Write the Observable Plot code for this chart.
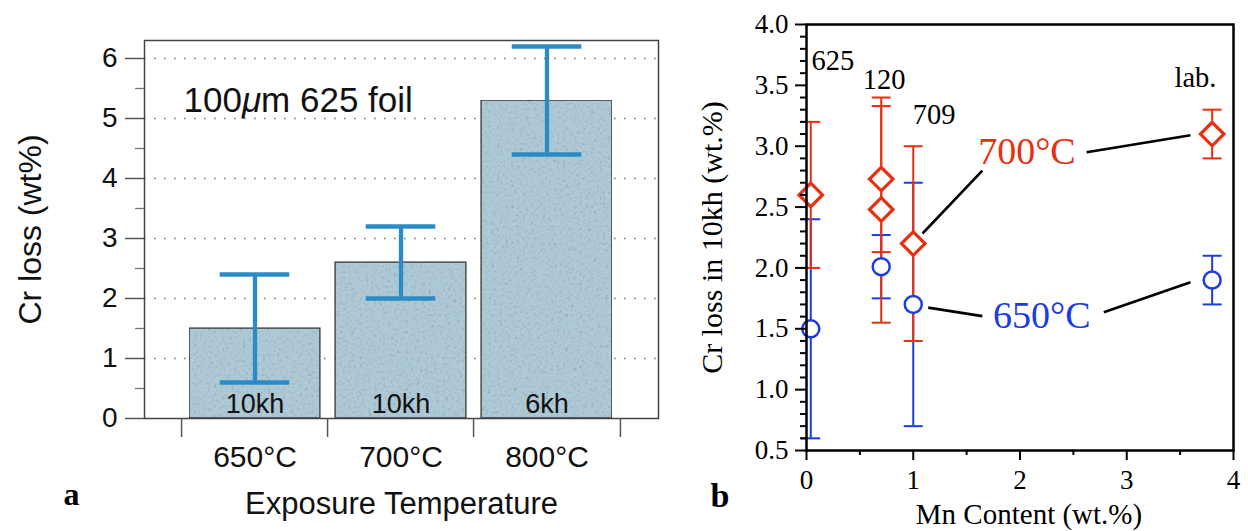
<!DOCTYPE html>
<html><head><meta charset="utf-8">
<script src="https://cdn.jsdelivr.net/npm/d3@7"></script>
<script src="https://cdn.jsdelivr.net/npm/@observablehq/plot@0.6"></script>
<style>
html,body{margin:0;padding:0;background:#fff;}
#wrap{position:relative;width:1248px;height:531px;overflow:hidden;}
#pa{position:absolute;left:0;top:0;}
#pb{position:absolute;left:680px;top:0;}
</style></head><body><div id="wrap"><div id="pa"></div><div id="pb"></div></div>
<script>
// ---------- Panel a data ----------
const tempLabels = ["650°C", "700°C", "800°C"];
const crLoss = [1.5, 2.6, 5.3];
const crLow = [0.6, 2.0, 4.4];
const crHigh = [2.4, 3.2, 6.2];
const hours = ["10kh", "10kh", "6kh"];
const aYTicks = [0, 1, 2, 3, 4, 5, 6];
const aYMinor = [0.5, 1.5, 2.5, 3.5, 4.5, 5.5];

// ---------- Panel b data ----------
const mn650 = [0.04, 0.70, 1.00, 3.80];
const loss650 = [1.5, 2.01, 1.7, 1.9];
const lo650 = [0.6, 1.75, 0.7, 1.7];
const hi650 = [2.4, 2.27, 2.7, 2.1];

const mn700 = [0.04, 0.70, 0.70, 1.00, 3.80];
const loss700 = [2.6, 2.73, 2.48, 2.2, 3.1];
const lo700 = [2.0, 2.13, 1.55, 1.4, 2.9];
const hi700 = [3.2, 3.33, 3.4, 3.0, 3.3];

const alloyNames = ["625", "120", "709", "lab."];
const alloyX = [0.047, 0.527, 0.996, 3.447];
const alloyY = [3.628, 3.472, 3.184, 3.485];

const seriesNames = ["700°C", "650°C"];
const seriesX = [1.608, 1.747];
const seriesY = [2.85, 1.504];

// leader lines (x1,y1) -> (x2,y2)
const leadX1 = [1.087, 2.624, 1.14, 2.785];
const leadY1 = [2.283, 2.951, 1.674, 1.636];
const leadX2 = [1.647, 3.597, 1.647, 3.597];
const leadY2 = [2.80, 3.09, 1.604, 1.882];

const bYTicks = [0.5, 1.0, 1.5, 2.0, 2.5, 3.0, 3.5, 4.0];
const bXTicks = [0, 1, 2, 3, 4];
const bXMinor = [0.5, 1.5, 2.5, 3.5];
const bYMinor = d3.range(5, 41).map(i => i / 10).filter(v => Math.round(v * 10) % 5 !== 0);

// ---------- Panel a ----------
const aRows = tempLabels.map((t, i) => ({temp: t, loss: crLoss[i], lo: crLow[i], hi: crHigh[i], hours: hours[i]}));
const A = {w: 680, h: 531, ml: 144, mr: 22, mt: 40, mb: 113};
const padIn = 0.1, padOut = 0.3;
const halfStep = (A.w - A.ml - A.mr) / (tempLabels.length - padIn + 2 * padOut) / 2;
const errBlue = "#2b8cc5";
const sans = "'Liberation Sans', Arial, Helvetica, sans-serif";
const serif = "'Liberation Serif', 'Times New Roman', serif";

const plotA = Plot.plot({
  width: A.w, height: A.h,
  marginLeft: A.ml, marginRight: A.mr, marginTop: A.mt, marginBottom: A.mb,
  style: {fontFamily: sans, fontSize: "27px", color: "#111", background: "transparent", overflow: "visible"},
  x: {type: "band", domain: tempLabels, paddingInner: padIn, paddingOuter: padOut},
  y: {domain: [0, 6.3]},
  marks: [
    Plot.gridY({ticks: aYTicks.slice(1), stroke: "#777", strokeOpacity: 1, strokeWidth: 1.6, strokeDasharray: "1.6 8.4"}),
    Plot.barY(aRows, {x: "temp", y: "loss", fill: "#afcad7", stroke: "#3b3b3b", strokeWidth: 1.5}),
    Plot.ruleX(aRows, {x: "temp", y1: "lo", y2: "hi", stroke: errBlue, strokeWidth: 4.3}),
    Plot.tickY(aRows, {x: "temp", y: "lo", stroke: errBlue, strokeWidth: 4.3, inset: 30.7}),
    Plot.tickY(aRows, {x: "temp", y: "hi", stroke: errBlue, strokeWidth: 4.3, inset: 30.7}),
    Plot.text(aRows, {x: "temp", y: 0, text: "hours", lineAnchor: "bottom", dy: -6, fontSize: 27, fill: "#111"}),
    Plot.frame({stroke: "#444", strokeWidth: 1.5}),
    Plot.axisY({ticks: aYTicks, tickSize: 19, tickPadding: 8, tickFormat: d3.format("d"), label: null, stroke: "#555", strokeWidth: 1.5, fill: "#111", fontSize: 28}),
    Plot.axisY({ticks: aYMinor, tickSize: 9, tickFormat: () => "", label: null, stroke: "#777", strokeWidth: 1.3}),
    Plot.axisX({tickSize: 0, tickPadding: 27, label: null, fontSize: 30, fill: "#111"}),
    Plot.ruleX(tempLabels, {x: d => d, dx: -halfStep, insetTop: A.h - A.mt - A.mb, insetBottom: -19, stroke: "#555", strokeWidth: 1.5}),
    Plot.ruleX(tempLabels.slice(-1), {x: d => d, dx: halfStep, insetTop: A.h - A.mt - A.mb, insetBottom: -19, stroke: "#555", strokeWidth: 1.5}),
    Plot.text(["100μm 625 foil"], {text: d => d, frameAnchor: "top-left", dx: 39, dy: 71, textAnchor: "start", lineAnchor: "bottom", fontSize: 35, fill: "#111"}),
    Plot.text(["Cr loss (wt%)"], {text: d => d, frameAnchor: "left", dx: -114, rotate: -90, textAnchor: "middle", lineAnchor: "middle", fontSize: 32, fill: "#111"}),
    Plot.text(["Exposure Temperature"], {text: d => d, frameAnchor: "bottom", dy: 95, lineAnchor: "bottom", fontSize: 31, fill: "#111"}),
    Plot.text(["a"], {text: d => d, frameAnchor: "bottom-left", dx: -81, dy: 86, textAnchor: "start", lineAnchor: "bottom", fontFamily: serif, fontWeight: "bold", fontSize: 32, fill: "#000"})
  ]
});
document.getElementById("pa").append(plotA);

// texture filter for the bars (style only)
(function addTexture() {
  const ns = "http://www.w3.org/2000/svg";
  const defs = document.createElementNS(ns, "defs");
  defs.innerHTML = `
    <filter id="speckle" x="0" y="0" width="100%" height="100%" color-interpolation-filters="sRGB">
      <feTurbulence type="fractalNoise" baseFrequency="0.35" numOctaves="2" seed="7" result="n"/>
      <feColorMatrix in="n" type="matrix" values="0.33 0.33 0.33 0 0  0.33 0.33 0.33 0 0  0.33 0.33 0.33 0 0  0 0 0 0 1" result="g"/>
      <feComponentTransfer in="g" result="g2">
        <feFuncR type="linear" slope="0.55" intercept="0.72"/>
        <feFuncG type="linear" slope="0.55" intercept="0.72"/>
        <feFuncB type="linear" slope="0.55" intercept="0.72"/>
        <feFuncA type="linear" slope="0" intercept="1"/>
      </feComponentTransfer>
      <feBlend in="SourceGraphic" in2="g2" mode="multiply" result="m"/>
      <feComposite in="m" in2="SourceGraphic" operator="in"/>
    </filter>`;
  plotA.insertBefore(defs, plotA.firstChild);
  const bars = plotA.querySelector('g[aria-label="bar"]');
  if (bars) bars.setAttribute("filter", "url(#speckle)");
})();

// italic mu
plotA.querySelectorAll("text").forEach(t => {
  if (t.textContent === "100μm 625 foil") {
    const ns = "http://www.w3.org/2000/svg";
    while (t.firstChild) t.removeChild(t.firstChild);
    const parts = [["100", null], ["μ", "italic"], ["m 625 foil", null]];
    parts.forEach(([s, st]) => {
      const ts = document.createElementNS(ns, "tspan");
      ts.textContent = s;
      if (st) ts.setAttribute("font-style", st);
      t.appendChild(ts);
    });
  }
});

// ---------- Panel b ----------
const B = {w: 568, h: 531, ml: 126, mr: 15, mt: 24, mb: 81};
const red = "#e8300f";
const blue = "#1a3ce2";
const rows650 = mn650.map((m, i) => ({mn: m, loss: loss650[i], lo: lo650[i], hi: hi650[i]}));
const rows700 = mn700.map((m, i) => ({mn: m, loss: loss700[i], lo: lo700[i], hi: hi700[i]}));
const alloyRows = alloyNames.map((n, i) => ({name: n, x: alloyX[i], y: alloyY[i]}));
const seriesRows = seriesNames.map((n, i) => ({name: n, x: seriesX[i], y: seriesY[i], c: [red, blue][i]}));
const leadRows = leadX1.map((x, i) => ({x1: x, y1: leadY1[i], x2: leadX2[i], y2: leadY2[i]}));
const capSymbol = {draw(ctx, size) { const r = Math.sqrt(size / Math.PI); ctx.moveTo(-r, 0); ctx.lineTo(r, 0); }};

const errMarks = (rows, color) => [
  Plot.ruleX(rows, {x: "mn", y1: "lo", y2: "hi", stroke: color, strokeWidth: 2}),
  Plot.dot(rows, {x: "mn", y: "lo", symbol: capSymbol, r: 9.5, fill: "none", stroke: color, strokeWidth: 2}),
  Plot.dot(rows, {x: "mn", y: "hi", symbol: capSymbol, r: 9.5, fill: "none", stroke: color, strokeWidth: 2})
];

const plotB = Plot.plot({
  width: B.w, height: B.h,
  marginLeft: B.ml, marginRight: B.mr, marginTop: B.mt, marginBottom: B.mb,
  style: {fontFamily: serif, fontSize: "27px", color: "#000", background: "transparent", overflow: "visible"},
  x: {domain: [0, 4]},
  y: {domain: [0.5, 4]},
  marks: [
    ...errMarks(rows650, blue),
    ...errMarks(rows700, red),
    Plot.link(leadRows, {x1: "x1", y1: "y1", x2: "x2", y2: "y2", stroke: "#000", strokeWidth: 2.6}),
    Plot.dot(rows650, {x: "mn", y: "loss", r: 8.5, symbol: "circle", fill: "white", stroke: blue, strokeWidth: 2.5}),
    Plot.dot(rows700, {x: "mn", y: "loss", r: 10.6, symbol: "diamond2", fill: "white", stroke: red, strokeWidth: 3.2}),
    Plot.text(alloyRows, {x: "x", y: "y", text: "name", textAnchor: "start", lineAnchor: "bottom", fontSize: 28.5, fill: "#000"}),
    Plot.text(seriesRows, {x: "x", y: "y", text: "name", textAnchor: "start", lineAnchor: "bottom", fontSize: 38, fill: d => d.c}),
    Plot.frame({stroke: "#000", strokeWidth: 2.5}),
    Plot.axisY({ticks: bYTicks, tickSize: 11, tickPadding: 7, tickFormat: d3.format(".1f"), label: null, strokeWidth: 2, fontSize: 27}),
    Plot.axisY({ticks: bYMinor, tickSize: 6, tickFormat: () => "", label: null, strokeWidth: 2}),
    Plot.axisX({ticks: bXTicks, tickSize: 10, tickPadding: 9, tickFormat: d3.format("d"), label: null, strokeWidth: 2, fontSize: 27}),
    Plot.axisX({ticks: bXMinor, tickSize: 5, tickFormat: () => "", label: null, strokeWidth: 2}),
    Plot.text(["Cr loss in 10kh (wt.%)"], {text: d => d, frameAnchor: "left", dx: -94, rotate: -90, textAnchor: "middle", lineAnchor: "middle", fontSize: 30, fill: "#000"}),
    Plot.text(["Mn Content (wt.%)"], {text: d => d, frameAnchor: "bottom", dx: 9, dy: 73, lineAnchor: "bottom", fontSize: 29, fill: "#000"}),
    Plot.text(["b"], {text: d => d, frameAnchor: "bottom-left", dx: -96, dy: 56, textAnchor: "start", lineAnchor: "bottom", fontWeight: "bold", fontSize: 34, fill: "#000"})
  ]
});
document.getElementById("pb").append(plotB);
</script>
</body></html>
